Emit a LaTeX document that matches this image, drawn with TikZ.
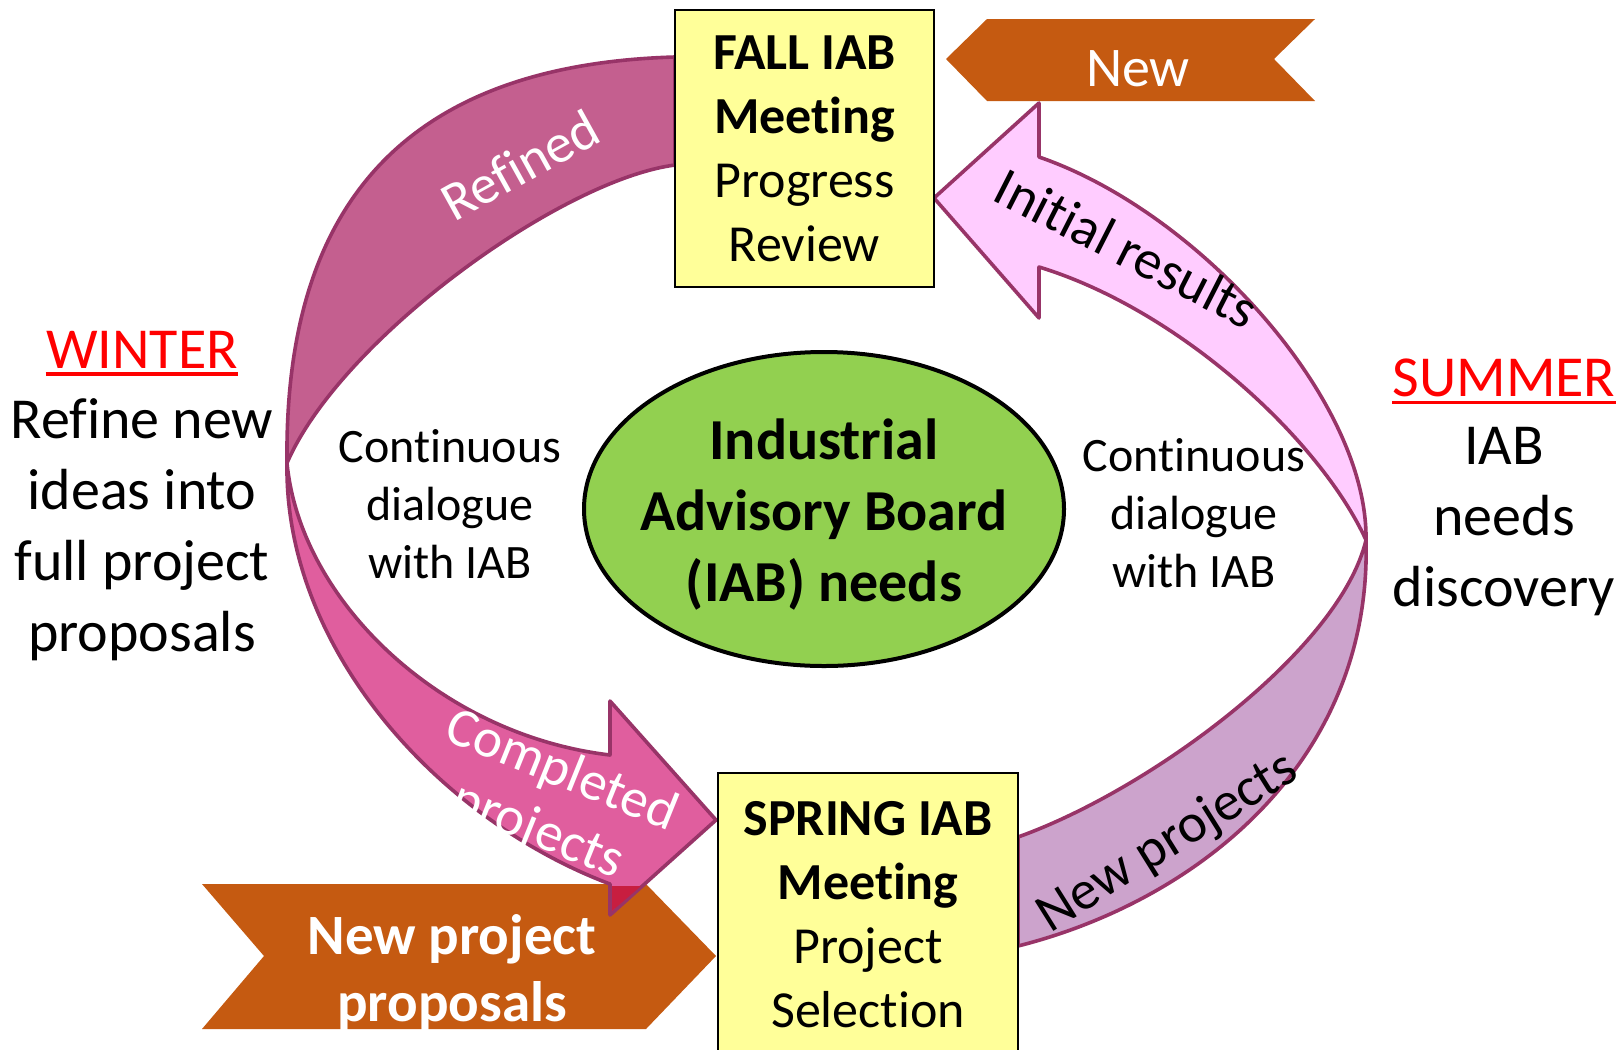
\documentclass[tikz,border=0pt]{standalone}
\usepackage{fontspec}
\setmainfont{Carlito}[Ligatures={NoCommon}]
\usetikzlibrary{shapes.geometric,positioning}

\definecolor{ringline}{RGB}{152,52,104}
\definecolor{refinedfill}{RGB}{196,95,143}
\definecolor{complfill}{RGB}{224,94,158}
\definecolor{initfill}{RGB}{255,204,255}
\definecolor{newprojfill}{RGB}{204,163,204}
\definecolor{bannerfill}{RGB}{197,90,17}
\definecolor{meetfill}{RGB}{255,255,153}
\definecolor{iabgreen}{RGB}{146,208,80}
\definecolor{overlapred}{RGB}{200,30,64}

\tikzset{
  band/.style={draw=ringline, line width=1.8pt, line join=round},
  meeting/.style={draw, fill=meetfill, line width=0.75pt, align=center,
    inner sep=0pt, font=\fontsize{26}{32}\selectfont},
  season/.style={align=center, font=\fontsize{29}{35.5}\selectfont},
  dialog/.style={align=center, font=\fontsize{24}{29}\selectfont},
  bandlabel/.style={align=center, font=\fontsize{27.5}{32}\selectfont},
  banner/.style={fill=bannerfill}
}

\begin{document}
\begin{tikzpicture}[x=0.5pt,y=-0.5pt]
\useasboundingbox (0,0) rectangle (1621,1049);

% twist points of the ring
\coordinate (wx) at (287,463);
\coordinate (sx) at (1366,540);

% banners
\fill[banner] (946,59) -- (987,19) -- (1315,19) -- (1274,59) -- (1315,101) -- (987,101) -- cycle;
\fill[banner] (202,884) -- (646,884) -- (716,956) -- (646,1029) -- (202,1029) -- (264,956) -- cycle;

% ring
\draw[band, fill=refinedfill] (675,57) .. controls (400,65) and (284,210) .. (wx)
  .. controls (340,340) and (560,180) .. (675,165) -- cycle;
\draw[band, fill=complfill] (wx) .. controls (284,650) and (440,820) .. (610,884)
  -- (610,915) -- (716,820) -- (610,701) -- (610,755)
  .. controls (440,735) and (300,600) .. (wx) -- cycle;
\fill[overlapred] (612,886) -- (641,886) -- (612,911) -- cycle;
\draw[band, fill=initfill] (sx) .. controls (1368,400) and (1199,212) .. (1039,157)
  -- (1039,103) -- (934,198) -- (1039,318) -- (1039,267)
  .. controls (1180,310) and (1320,440) .. (sx) -- cycle;
\draw[band, fill=newprojfill] (sx) .. controls (1340,650) and (1150,790) .. (1018,837)
  -- (1018,946) .. controls (1200,900) and (1372,760) .. (sx) -- cycle;

% labels on the ring
\node[bandlabel, text=white, rotate=29] (refined) at (520,165) {Refined};
\node[bandlabel, rotate=-27] (initial) at (1127,248) {Initial results};
\node[bandlabel, rotate=32] (newproj) at (1168,843) {New projects};
\node[bandlabel, text=white, rotate=-22] (completed) at (549,802) {Completed\\projects};

% meetings
\node[meeting, minimum width=129.5pt, minimum height=138.5pt] (fall) at (804.5,148.5)
  {\textbf{FALL IAB}\\\textbf{Meeting}\\Progress\\Review};
\node[meeting, minimum width=150pt, minimum height=141.5pt] (spring) at (868,914.5)
  {\textbf{SPRING IAB}\\\textbf{Meeting}\\Project\\Selection};

% centre
\node[ellipse, draw, line width=2pt, fill=iabgreen, minimum width=240pt,
  minimum height=157pt, inner sep=0pt] (iab) at (824,509) {};
\node[align=center, font=\bfseries\fontsize{29}{35.5}\selectfont] (iabtext)
  at (824,515) {Industrial\\Advisory Board\\(IAB) needs};

\node[dialog] (dialogleft) at (450,504) {Continuous\\dialogue\\with IAB};
\node[dialog] (dialogright) at (1194,513) {Continuous\\dialogue\\with IAB};

% banner texts
\node[text=white, font=\fontsize{28}{30}\selectfont] (newlabel) at (1138,69) {New};
\begin{scope}
\clip (202,884) -- (646,884) -- (716,956) -- (646,1029) -- (202,1029) -- (264,956) -- cycle;
\node[text=white, align=center, font=\bfseries\fontsize{28.5}{33.5}\selectfont] (proposals)
  at (452,972) {New project\\proposals};
\end{scope}

% seasons
\node[season, text=red, inner sep=0pt] (winter) at (142,350) {WINTER};
\draw[red, line width=1.7pt] ([yshift=-2.5pt]winter.south west) -- ([yshift=-2.5pt]winter.south east);
\node[season] (wintertext) at (142,530) {Refine new\\ideas into\\full project\\proposals};
\node[season, text=red, inner sep=0pt] (summer) at (1504,378) {SUMMER};
\draw[red, line width=1.7pt] ([yshift=-2.5pt]summer.south west) -- ([yshift=-2.5pt]summer.south east);
\node[season] (summertext) at (1504,522) {IAB\\needs\\discovery};
\end{tikzpicture}
\end{document}
